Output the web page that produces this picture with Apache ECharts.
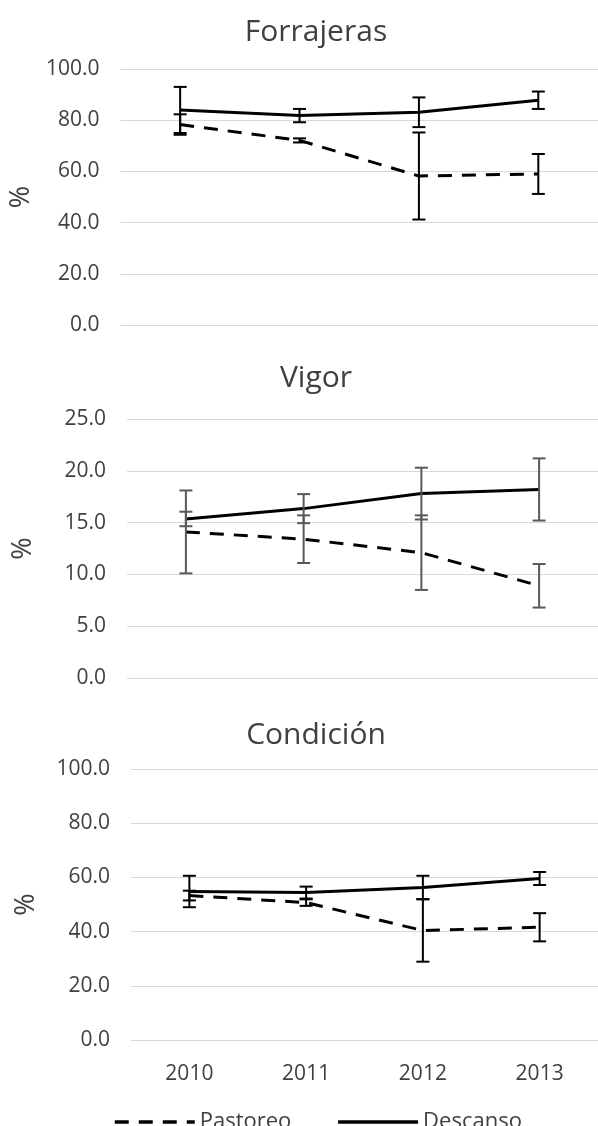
<!DOCTYPE html>
<html>
<head>
<meta charset="utf-8">
<script src="https://cdn.jsdelivr.net/npm/echarts@6/dist/echarts.min.js"></script>
<style>
html,body{margin:0;padding:0;background:#fff;}
#c{width:598px;height:1126px;}
</style>
</head>
<body>
<div id="c"></div>
<script>
const categories = ['2010', '2011', '2012', '2013'];
const panelTitles = ['Forrajeras', 'Vigor', 'Condición'];
const seriesNames = ['Pastoreo', 'Descanso'];

const forrajerasPastoreo = [78.3, 72.1, 58.2, 59.0];
const forrajerasPastoreoErr = [4.0, 0.8, 17.0, 7.8];
const forrajerasDescanso = [84.0, 81.8, 83.1, 87.8];
const forrajerasDescansoErr = [9.0, 2.6, 5.8, 3.4];

const vigorPastoreo = [14.1, 13.4, 12.1, 8.9];
const vigorPastoreoErr = [4.0, 2.3, 3.6, 2.1];
const vigorDescanso = [15.35, 16.35, 17.8, 18.2];
const vigorDescansoErr = [0.7, 1.4, 2.5, 3.0];

const condicionPastoreo = [53.3, 50.7, 40.4, 41.6];
const condicionPastoreoErr = [1.8, 1.2, 11.5, 5.2];
const condicionDescanso = [54.8, 54.4, 56.3, 59.6];
const condicionDescansoErr = [5.8, 2.2, 4.3, 2.4];

const yMax = [100, 25, 100];
const yInterval = [20, 5, 20];

const panels = [
  {p: forrajerasPastoreo, pe: forrajerasPastoreoErr, d: forrajerasDescanso, de: forrajerasDescansoErr, errColor: '#000000'},
  {p: vigorPastoreo, pe: vigorPastoreoErr, d: vigorDescanso, de: vigorDescansoErr, errColor: '#595959'},
  {p: condicionPastoreo, pe: condicionPastoreoErr, d: condicionDescanso, de: condicionDescansoErr, errColor: '#000000'}
];

const layout = [
  {left: 115, top: 69, width: 484, height: 256, nameGap: 80, titleY: 32},
  {left: 127, top: 419, width: 480, height: 259, nameGap: 90, titleY: 378},
  {left: 131, top: 769, width: 480, height: 271, nameGap: 91, titleY: 735}
];

const textColor = '#404040';
const FONT = '"Open Sans", "Noto Sans", sans-serif';

function errRender(color) {
  return function (params, api) {
    const x = api.value(0), v = api.value(1), e = api.value(2);
    const top = api.coord([x, v + e]);
    const bot = api.coord([x, v - e]);
    const cx = top[0], w = 6.5;
    const style = {stroke: color, lineWidth: 2};
    return {
      type: 'group',
      children: [
        {type: 'line', shape: {x1: cx, y1: top[1], x2: cx, y2: bot[1]}, style: style},
        {type: 'line', shape: {x1: cx - w, y1: top[1], x2: cx + w, y2: top[1]}, style: style},
        {type: 'line', shape: {x1: cx - w, y1: bot[1], x2: cx + w, y2: bot[1]}, style: style}
      ]
    };
  };
}

const grid = [], xAxis = [], yAxis = [], series = [], title = [];
panels.forEach(function (pn, k) {
  const L = layout[k];
  grid.push({left: L.left, top: L.top, width: L.width, height: L.height, containLabel: false});
  title.push({
    text: panelTitles[k], left: 316, top: L.titleY, padding: 0,
    textAlign: 'center', textVerticalAlign: 'middle',
    textStyle: {fontFamily: FONT, fontSize: 30, fontWeight: 'normal', color: textColor}
  });
  xAxis.push({
    type: 'category', gridIndex: k, data: categories, boundaryGap: true,
    axisLine: {show: false}, axisTick: {show: false},
    axisLabel: {show: k === 2, margin: 24, fontFamily: FONT, fontSize: 21, color: textColor}
  });
  yAxis.push({
    type: 'value', gridIndex: k, min: 0, max: yMax[k], interval: yInterval[k],
    name: '%', nameLocation: 'middle', nameRotate: 90, nameGap: L.nameGap,
    nameTextStyle: {fontFamily: FONT, fontSize: 27, color: textColor},
    axisLine: {show: false}, axisTick: {show: false},
    axisLabel: {margin: 21, fontFamily: FONT, fontSize: 21, color: textColor,
      formatter: function (v) { return v.toFixed(1); }},
    splitLine: {lineStyle: {color: '#d9d9d9', width: 1}}
  });
  series.push({
    name: seriesNames[0], type: 'line', xAxisIndex: k, yAxisIndex: k, data: pn.p,
    symbol: 'none', lineStyle: {color: '#000', width: 3, type: [14, 10]}, itemStyle: {color: '#000'}, z: 3
  });
  series.push({
    name: seriesNames[1], type: 'line', xAxisIndex: k, yAxisIndex: k, data: pn.d,
    symbol: 'none', lineStyle: {color: '#000', width: 3, type: 'solid'}, itemStyle: {color: '#000'}, z: 3
  });
  series.push({
    type: 'custom', xAxisIndex: k, yAxisIndex: k, renderItem: errRender(pn.errColor),
    data: categories.map(function (c, i) { return [i, pn.p[i], pn.pe[i]]; }),
    encode: {x: 0, y: 1}, z: 4, silent: true
  });
  series.push({
    type: 'custom', xAxisIndex: k, yAxisIndex: k, renderItem: errRender(pn.errColor),
    data: categories.map(function (c, i) { return [i, pn.d[i], pn.de[i]]; }),
    encode: {x: 0, y: 1}, z: 4, silent: true
  });
});

const chart = echarts.init(document.getElementById('c'), null, {renderer: 'canvas'});
chart.setOption({
  animation: false,
  backgroundColor: '#ffffff',
  title: title,
  grid: grid,
  xAxis: xAxis,
  yAxis: yAxis,
  legend: {
    data: seriesNames, left: 108, top: 1106, itemWidth: 80, itemHeight: 14, itemGap: 45,
    itemStyle: {opacity: 0},
    lineStyle: {width: 3.5},
    textStyle: {fontFamily: FONT, fontSize: 22, color: textColor}
  },
  series: series
});
</script>
</body>
</html>
